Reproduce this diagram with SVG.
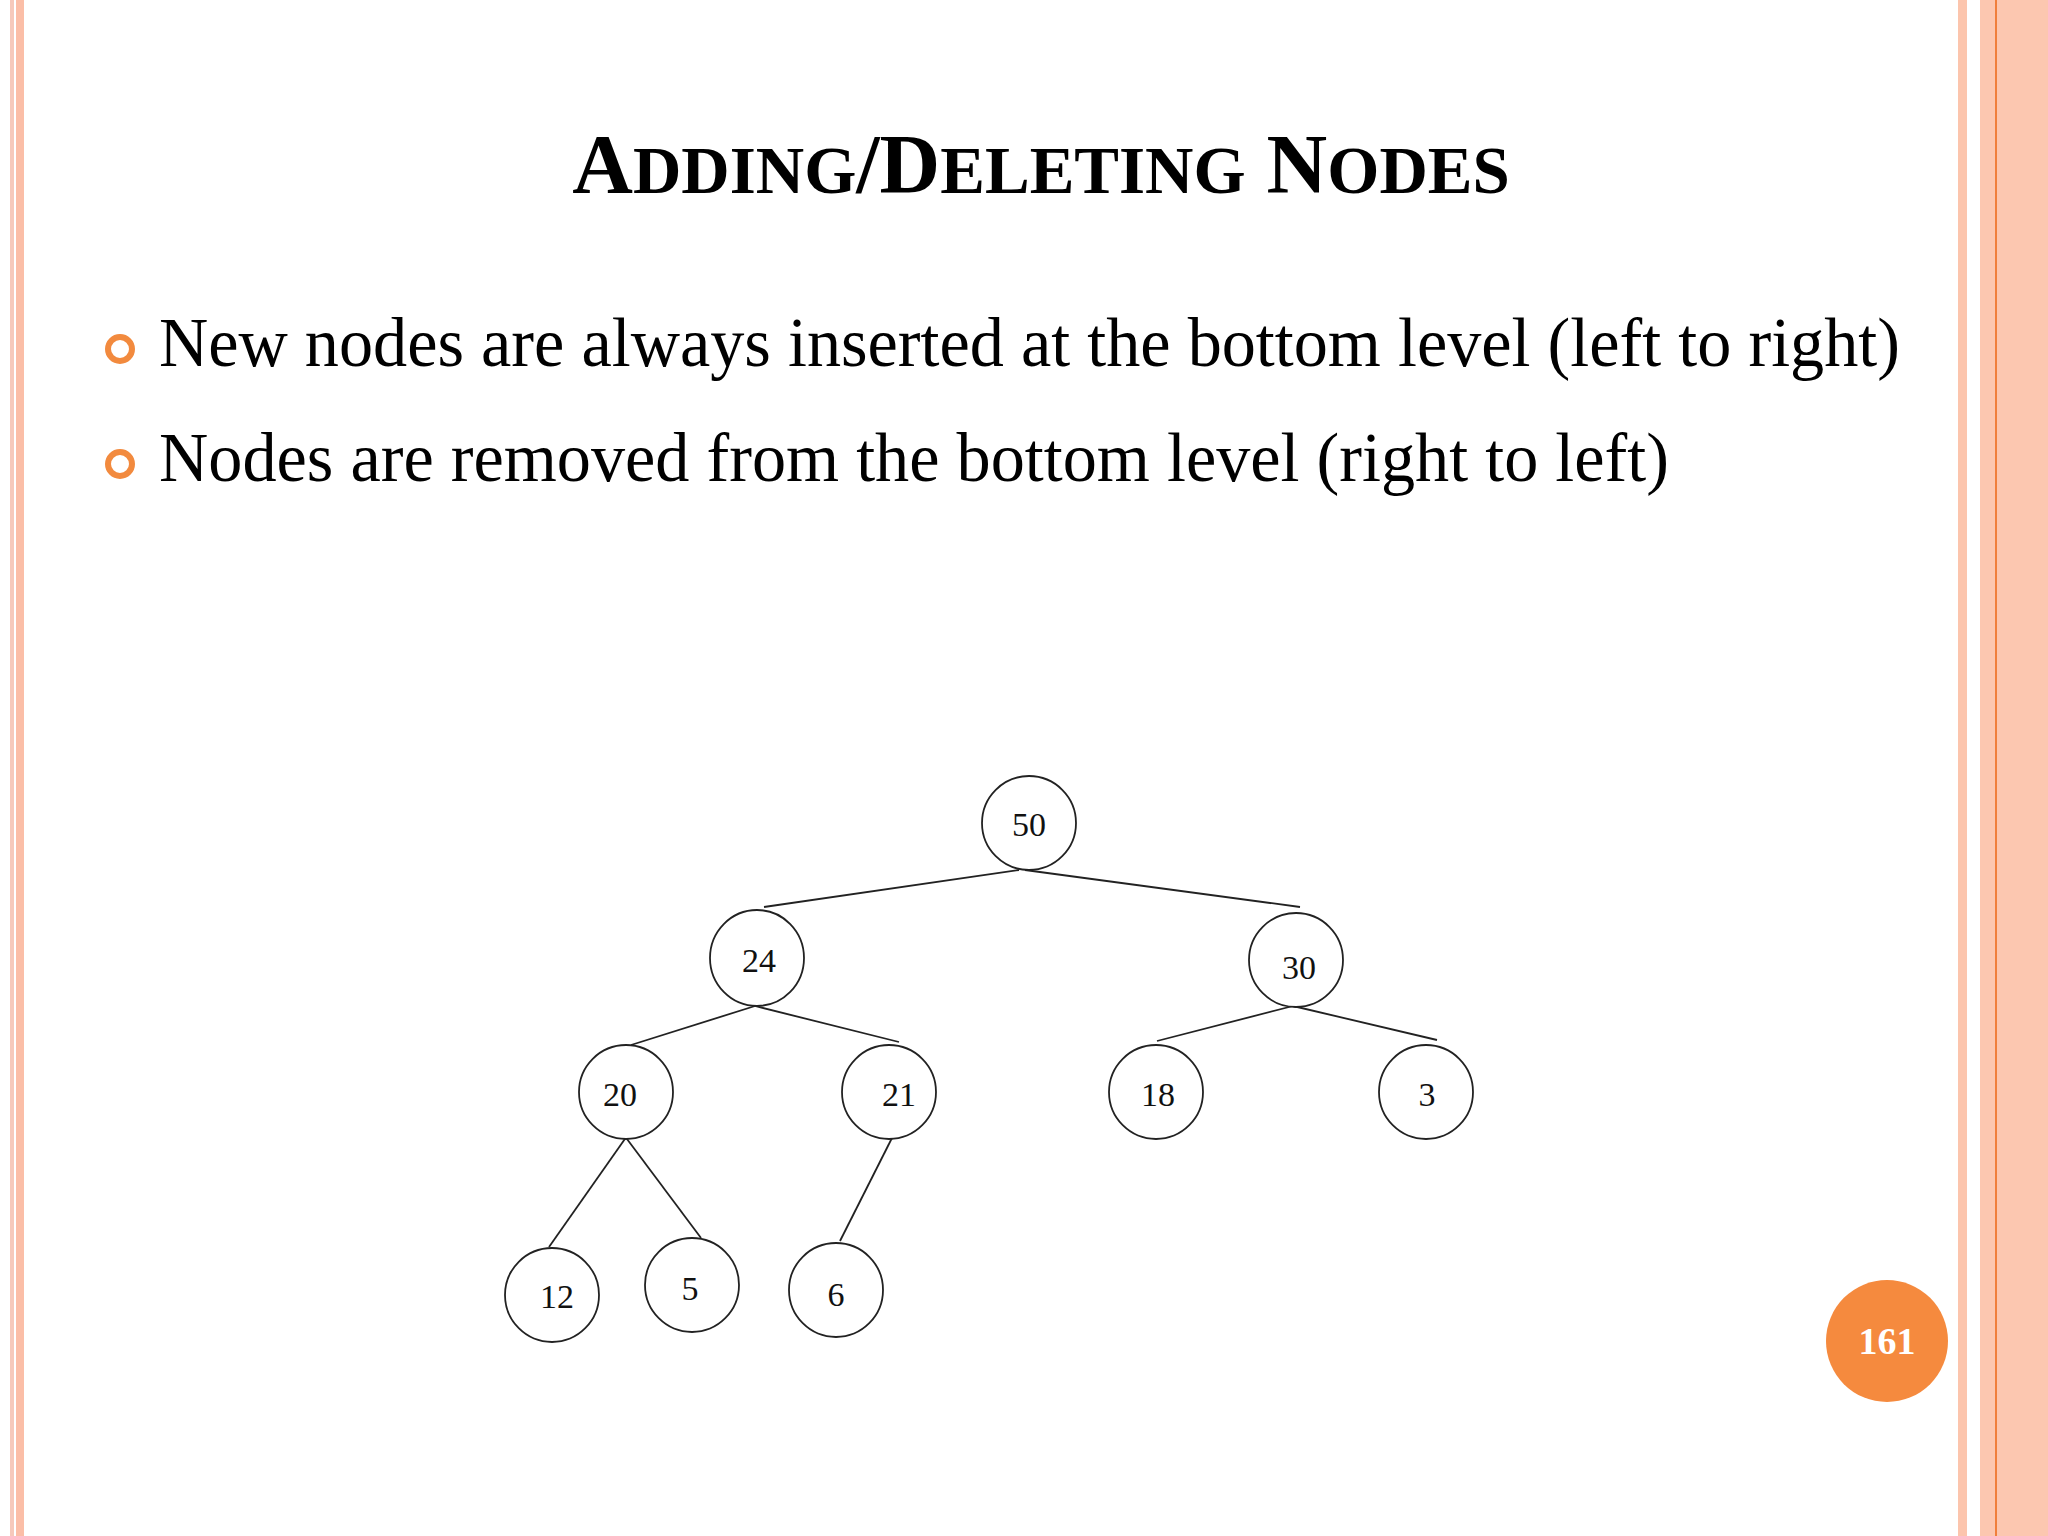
<svg xmlns="http://www.w3.org/2000/svg" width="2048" height="1536" viewBox="0 0 2048 1536">
<style>
.n ellipse{fill:#fff;stroke:#222;stroke-width:1.8}
.n text{font-family:"Liberation Serif",serif;font-size:34px;text-anchor:middle;fill:#111}
#edges line{stroke:#222;stroke-width:1.8}
.b{font-family:"Liberation Serif",serif;font-size:70px;fill:#000}
</style>
<rect width="2048" height="1536" fill="#fff"/>
<rect x="10" y="0" width="4" height="1536" fill="#f6c9bb"/>
<rect x="16" y="0" width="8" height="1536" fill="#fbbea7"/>
<rect x="1958" y="0" width="9" height="1536" fill="#fcc5ad"/>
<rect x="1980" y="0" width="68" height="1536" fill="#fcc7b0"/>
<rect x="1995" y="0" width="2" height="1536" fill="#f07f3c"/>
<text x="1041" y="193" text-anchor="middle" font-family="Liberation Serif,serif" font-weight="bold" font-size="84">A<tspan font-size="67">DDING</tspan>/D<tspan font-size="67">ELETING</tspan> N<tspan font-size="67">ODES</tspan></text>
<circle cx="120" cy="349" r="12" fill="none" stroke="#f28a3e" stroke-width="6"/>
<circle cx="120" cy="464" r="12" fill="none" stroke="#f28a3e" stroke-width="6"/>
<text class="b" x="159" y="366" textLength="1741" lengthAdjust="spacingAndGlyphs">New nodes are always inserted at the bottom level (left to right)</text>
<text class="b" x="159" y="481" textLength="1510" lengthAdjust="spacingAndGlyphs">Nodes are removed from the bottom level (right to left)</text>
<g id="edges">
<line x1="1019" y1="870" x2="764" y2="907"/>
<line x1="1025" y1="870" x2="1300" y2="907"/>
<line x1="755" y1="1006" x2="631" y2="1045"/>
<line x1="755" y1="1006" x2="899" y2="1042"/>
<line x1="1293" y1="1006" x2="1157" y2="1041"/>
<line x1="1293" y1="1006" x2="1437" y2="1040"/>
<line x1="627" y1="1136" x2="549" y2="1247"/>
<line x1="627" y1="1139" x2="701" y2="1238"/>
<line x1="893" y1="1136" x2="840" y2="1241"/>
</g>
<g id="n50" class="n"><ellipse cx="1029" cy="823" rx="47" ry="47"/><text x="1029" y="836">50</text></g>
<g id="n24" class="n"><ellipse cx="757" cy="958" rx="47" ry="48"/><text x="759" y="972">24</text></g>
<g id="n30" class="n"><ellipse cx="1296" cy="960" rx="47" ry="47"/><text x="1299" y="979">30</text></g>
<g id="n20" class="n"><ellipse cx="626" cy="1092" rx="47" ry="47"/><text x="620" y="1106">20</text></g>
<g id="n21" class="n"><ellipse cx="889" cy="1092" rx="47" ry="47"/><text x="899" y="1106">21</text></g>
<g id="n18" class="n"><ellipse cx="1156" cy="1092" rx="47" ry="47"/><text x="1158" y="1106">18</text></g>
<g id="n3" class="n"><ellipse cx="1426" cy="1092" rx="47" ry="47"/><text x="1427" y="1106">3</text></g>
<g id="n12" class="n"><ellipse cx="552" cy="1295" rx="47" ry="47"/><text x="557" y="1308">12</text></g>
<g id="n5" class="n"><ellipse cx="692" cy="1285" rx="47" ry="47"/><text x="690" y="1300">5</text></g>
<g id="n6" class="n"><ellipse cx="836" cy="1290" rx="47" ry="47"/><text x="836" y="1306">6</text></g>
<g id="page"><circle cx="1887" cy="1341" r="61" fill="#f58a3e"/><text x="1887" y="1354" text-anchor="middle" font-family="Liberation Serif,serif" font-weight="bold" font-size="38" fill="#fff">161</text></g>
</svg>
